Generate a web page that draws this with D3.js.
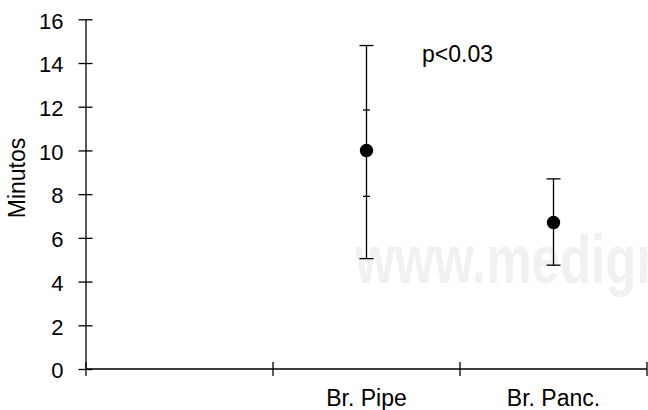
<!DOCTYPE html>
<html>
<head>
<meta charset="utf-8">
<script src="https://cdn.jsdelivr.net/npm/d3@7"></script>
<style>
  html, body { margin: 0; padding: 0; background: #fff; }
  svg { display: block; font-family: "Liberation Sans", Arial, sans-serif; }
</style>
</head>
<body>
<svg id="chart" width="648" height="410"></svg>
<script>
// ---- data ----
const categories = ["", "Br. Pipe", "Br. Panc."];
const means      = [null, 10.0, 6.7];
const upperVals  = [null, 14.8, 8.7];
const lowerVals  = [null, 5.05, 4.75];
const innerUpper = [null, 11.85, null];
const innerLower = [null, 7.9, null];
const yTicks = [0, 2, 4, 6, 8, 10, 12, 14, 16];
const yLabel = "Minutos";
const annotation = "p<0.03";
const watermark = "www.medigraphic.com";

// ---- layout ----
const svg = d3.select("#chart");
const x = d3.scaleBand().domain(categories).range([86, 647]).paddingInner(0).paddingOuter(0);
const y = d3.scaleLinear().domain([0, 16]).range([369, 19.3]);

// watermark
svg.append("text")
  .attr("transform", "translate(355,283) scale(0.75,1)")
  .attr("font-size", 68)
  .attr("font-weight", "bold")
  .attr("fill", "#f1f1f1")
  .text(watermark);

// y axis
const gy = svg.append("g")
  .attr("transform", "translate(85.5,0)")
  .call(d3.axisLeft(y).tickValues(yTicks).tickSizeInner(7).tickSizeOuter(0).tickPadding(15));
gy.selectAll(".tick line").attr("x1", 7).attr("x2", -7).attr("stroke-width", 1.3);
gy.select(".domain").attr("stroke-width", 1.3);
gy.selectAll(".tick text").attr("font-size", 22).attr("dy", "0.4em").attr("fill", "#000")
  .attr("font-family", "'Liberation Sans', Arial, sans-serif");

// x axis (labels)
const gx = svg.append("g")
  .attr("transform", "translate(0,369)")
  .call(d3.axisBottom(x).tickSize(0).tickPadding(21));
gx.select(".domain").remove();
gx.selectAll(".tick text").attr("font-size", 23).attr("fill", "#000")
  .attr("font-family", "'Liberation Sans', Arial, sans-serif");

// x axis line and category boundary ticks
const bw = x.bandwidth();
const bounds = categories.map(c => x(c)).concat([x(categories[categories.length - 1]) + bw]);
svg.append("line")
  .attr("x1", bounds[0]).attr("x2", bounds[bounds.length - 1])
  .attr("y1", y(0)).attr("y2", y(0))
  .attr("stroke", "#000").attr("stroke-width", 1.3);
svg.append("g").selectAll("line").data(bounds).join("line")
  .attr("x1", d => d).attr("x2", d => d)
  .attr("y1", y(0) - 7).attr("y2", y(0) + 7)
  .attr("stroke", "#000").attr("stroke-width", 1.3);

// y label
svg.append("text")
  .attr("transform", "translate(25,178) rotate(-90)")
  .attr("text-anchor", "middle")
  .attr("font-size", 23)
  .attr("fill", "#000")
  .text(yLabel);

// error bars & points
const rows = categories.map((c, i) => ({
  c, m: means[i], hi: upperVals[i], lo: lowerVals[i], ih: innerUpper[i], il: innerLower[i]
})).filter(d => d.m != null);

const eb = svg.append("g").attr("stroke", "#000").attr("stroke-width", 1.3);
rows.forEach(d => {
  const cx = x(d.c) + bw / 2;
  eb.append("line").attr("x1", cx).attr("x2", cx).attr("y1", y(d.hi)).attr("y2", y(d.lo));
  [d.hi, d.lo].forEach(v => {
    eb.append("line").attr("x1", cx - 7).attr("x2", cx + 7).attr("y1", y(v)).attr("y2", y(v));
  });
  [d.ih, d.il].filter(v => v != null).forEach(v => {
    eb.append("line").attr("x1", cx - 3.5).attr("x2", cx + 3.5).attr("y1", y(v)).attr("y2", y(v));
  });
});
svg.append("g").selectAll("circle").data(rows).join("circle")
  .attr("cx", d => x(d.c) + bw / 2)
  .attr("cy", d => y(d.m))
  .attr("r", 6.7)
  .attr("fill", "#000");

// annotation
svg.append("text")
  .attr("x", 422).attr("y", 62)
  .attr("font-size", 23)
  .attr("fill", "#000")
  .text(annotation);
</script>
</body>
</html>
